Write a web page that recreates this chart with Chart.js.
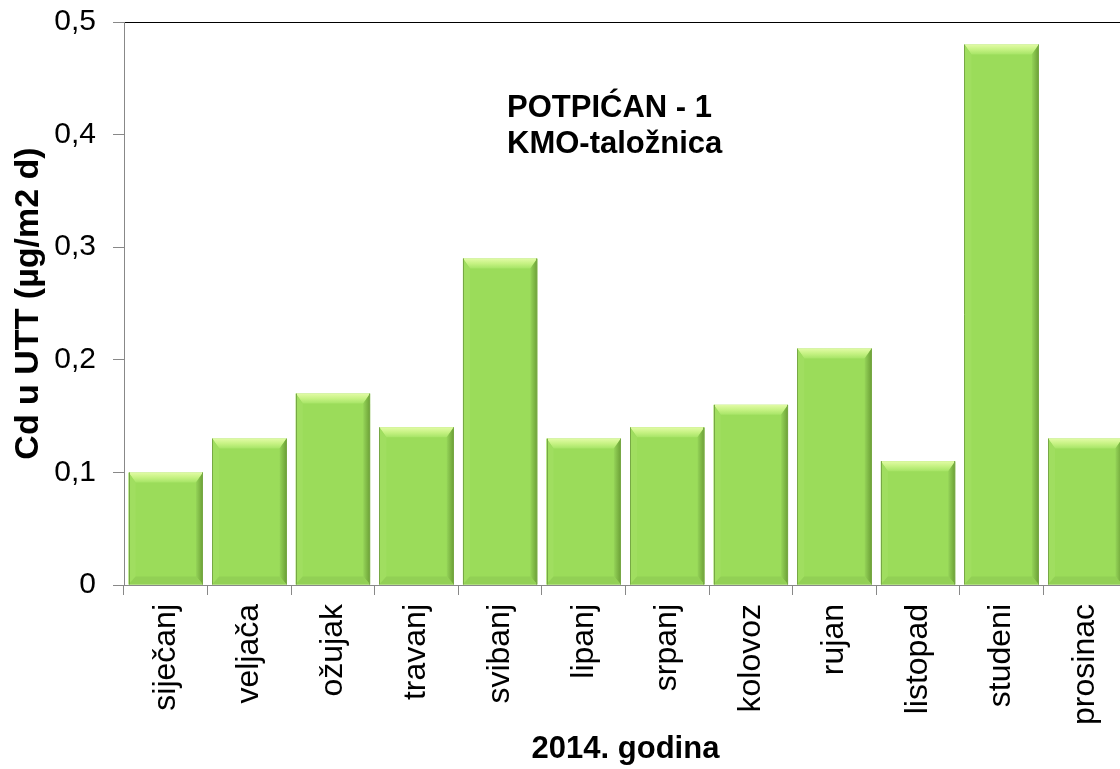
<!DOCTYPE html>
<html>
<head>
<meta charset="utf-8">
<script src="https://cdn.jsdelivr.net/npm/chart.js@4"></script>
<style>
  html, body { margin: 0; padding: 0; overflow: hidden; background: #fff; }
  canvas { display: block; }
</style>
</head>
<body>
<canvas id="myChart" width="1130" height="769"></canvas>
<script>
// months of 2014
let months = [
    "siječanj", "veljača", "ožujak", "travanj", "svibanj", "lipanj",
    "srpanj", "kolovoz", "rujan", "listopad", "studeni", "prosinac"
];

// Cd values (µg/m2 d)
let cdValues = [0.10, 0.13, 0.17, 0.14, 0.29, 0.13, 0.14, 0.16, 0.21, 0.11, 0.48, 0.13];

let yTicks = [0, 0.1, 0.2, 0.3, 0.4, 0.5];

let stationLines = ["POTPIĆAN - 1", "KMO-taložnica"];

let font = "'Liberation Sans', Arial, sans-serif";

//bevel look on the bars (like the excel 3d style)
let bevelPlugin = {
    id: "bevel",
    afterDatasetsDraw(chart) {
        let ctx = chart.ctx;
        let meta = chart.getDatasetMeta(0);
        meta.data.forEach(function(bar) {
            let l = bar.x - bar.width / 2;
            let r = bar.x + bar.width / 2;
            let t = bar.y;
            let b = bar.base;
            let bt = 10, bs = 7, bb = 8;
            ctx.save();
            //top
            let g = ctx.createLinearGradient(0, t, 0, t + bt);
            g.addColorStop(0, "#e2fba6");
            g.addColorStop(0.5, "#c6f283");
            g.addColorStop(1, "#a6e466");
            ctx.fillStyle = g;
            ctx.beginPath();
            ctx.moveTo(l, t); ctx.lineTo(r, t); ctx.lineTo(r - bs, t + bt); ctx.lineTo(l + bs, t + bt);
            ctx.closePath(); ctx.fill();
            //right
            let g2 = ctx.createLinearGradient(r - bs, 0, r, 0);
            g2.addColorStop(0, "#95d458");
            g2.addColorStop(1, "#6b9f36");
            ctx.fillStyle = g2;
            ctx.beginPath();
            ctx.moveTo(r, t); ctx.lineTo(r, b); ctx.lineTo(r - bs, b - bb); ctx.lineTo(r - bs, t + bt);
            ctx.closePath(); ctx.fill();
            //left
            ctx.fillStyle = "#a0de60";
            ctx.beginPath();
            ctx.moveTo(l, t); ctx.lineTo(l + bs, t + bt); ctx.lineTo(l + bs, b - bb); ctx.lineTo(l, b);
            ctx.closePath(); ctx.fill();
            //bottom
            ctx.fillStyle = "#92d055";
            ctx.beginPath();
            ctx.moveTo(l, b); ctx.lineTo(l + bs, b - bb); ctx.lineTo(r - bs, b - bb); ctx.lineTo(r, b);
            ctx.closePath(); ctx.fill();
            //thin edge on the left and right
            ctx.strokeStyle = "#77a845";
            ctx.lineWidth = 1;
            ctx.beginPath();
            ctx.moveTo(Math.round(l) + 0.5, b); ctx.lineTo(Math.round(l) + 0.5, t);
            ctx.moveTo(Math.round(r) - 0.5, t); ctx.lineTo(Math.round(r) - 0.5, b);
            ctx.stroke();
            ctx.restore();
        });
    }
};

//text box inside the plot
let stationPlugin = {
    id: "stationText",
    afterDraw(chart) {
        let ctx = chart.ctx;
        let area = chart.chartArea;
        ctx.save();
        ctx.fillStyle = "#000";
        ctx.font = "bold 31px " + font;
        ctx.textAlign = "left";
        ctx.textBaseline = "alphabetic";
        ctx.fillText(stationLines[0], area.left + 383, area.top + 95);
        ctx.fillText(stationLines[1], area.left + 383, area.top + 131);
        ctx.restore();
    }
};

let data = {
    labels: months,
    datasets: [{
        label: "Cd",
        data: cdValues,
        backgroundColor: "#9bdc5a",
        borderWidth: 0,
        barPercentage: 0.89,
        categoryPercentage: 1.0
    }]
};

let config = {
    type: "bar",
    data: data,
    options: {
        responsive: false,
        devicePixelRatio: 1,
        animation: false,
        layout: { padding: { top: 22, right: 3, bottom: 0, left: 0 } },
        plugins: {
            legend: { display: false },
            tooltip: { enabled: false }
        },
        scales: {
            x: {
                afterFit: function(scale) {
                    scale.height = 184;
                    scale.paddingLeft = 0;
                    scale.paddingRight = 0;
                },
                grid: {
                    offset: true,
                    drawOnChartArea: false,
                    color: "#888",
                    tickColor: "#888",
                    tickLength: 10
                },
                border: { color: "#888", width: 1 },
                ticks: {
                    autoSkip: false,
                    minRotation: 90,
                    maxRotation: 90,
                    padding: 9,
                    color: "#000",
                    font: { family: font, size: 32 }
                },
                title: {
                    display: true,
                    text: "2014. godina",
                    color: "#000",
                    font: { family: font, size: 31, weight: "bold" },
                    padding: { top: 0, bottom: 1 }
                }
            },
            y: {
                min: 0,
                max: 0.5,
                afterFit: function(scale) {
                    scale.width = 124;
                    scale.paddingTop = 0;
                    scale.paddingBottom = 0;
                },
                afterBuildTicks: function(scale) {
                    scale.ticks = yTicks.map(v => ({ value: v }));
                },
                grid: {
                    color: ctx => (ctx.tick && ctx.tick.value === 0.5) ? "#000" : "rgba(0,0,0,0)",
                    tickColor: "#888",
                    tickLength: 11
                },
                border: { color: "#888", width: 1 },
                ticks: {
                    padding: 17,
                    color: "#000",
                    font: { family: font, size: 30 },
                    callback: v => v === 0 ? "0" : v.toFixed(1).replace(".", ",")
                },
                title: {
                    display: true,
                    text: "Cd u UTT (µg/m2 d)",
                    color: "#000",
                    font: { family: font, size: 34, weight: "bold" },
                    padding: { top: 8, bottom: 0 }
                }
            }
        }
    },
    plugins: [bevelPlugin, stationPlugin]
};

let barChart = new Chart(
    document.getElementById("myChart"),
    config
);
</script>
</body>
</html>
